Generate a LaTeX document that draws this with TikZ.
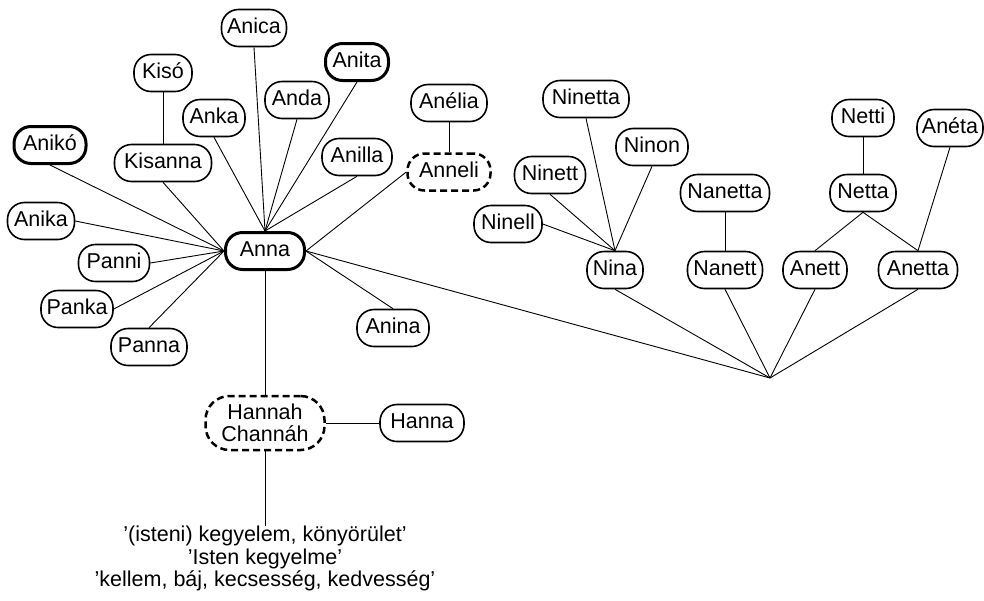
\documentclass[tikz,border=0pt]{standalone}
\usepackage{fontspec}
\setmainfont{Liberation Sans}
\tikzset{
  nm/.style={draw, line width=1.6pt, rounded corners=17pt, minimum height=37pt,
    inner xsep=3pt, inner ysep=0pt, font=\fontsize{21.5}{22.5}\selectfont,
    text height=15pt, text depth=4pt},
  thk/.style={nm, line width=3pt},
  dsh/.style={nm, line width=2.5pt, dash pattern=on 7pt off 4pt},
  ed/.style={line width=0.9pt},
}
\begin{document}
\begin{tikzpicture}[x=1pt,y=-1pt]
\useasboundingbox (0,0) rectangle (984,600);
% left cluster
\node[nm, minimum width=65pt] (anica) at (254,28) {Anica};
\node[nm, minimum width=58pt] (kiso) at (163,73) {Kisó};
\node[thk, minimum width=63pt] (anita) at (357,62) {Anita};
\node[nm, minimum width=64pt] (anda) at (297,100) {Anda};
\node[nm, minimum width=62pt] (anka) at (214,118) {Anka};
\node[thk, minimum width=72pt] (aniko) at (50,145) {Anikó};
\node[nm, minimum width=97pt] (kisanna) at (163,163) {Kisanna};
\node[nm, minimum width=70pt] (anilla) at (357,157) {Anilla};
\node[nm, minimum width=76pt] (anelia) at (449,103) {Anélia};
\node[dsh, minimum width=83pt] (anneli) at (449,172) {Anneli};
\node[nm, minimum width=67pt] (anika) at (41,221) {Anika};
\node[thk, minimum width=79pt] (anna) at (265,251) {Anna};
\node[nm, minimum width=71pt] (panni) at (114,263) {Panni};
\node[nm, minimum width=72pt] (panka) at (77,309) {Panka};
\node[nm, minimum width=76pt] (panna) at (149,347) {Panna};
\node[nm, minimum width=72pt] (anina) at (393,328) {Anina};
\node[draw, line width=2.5pt, dash pattern=on 7pt off 4pt, rounded corners=24pt,
  minimum width=119pt, minimum height=54pt, inner sep=0pt, align=center,
  font=\fontsize{21.5}{22.5}\selectfont] (hannah) at (265,423) {Hannah\\Channáh};
\node[nm, minimum width=84pt] (hanna) at (422,423) {Hanna};
\node[anchor=north, align=center, inner sep=0pt, font=\fontsize{21.5}{22.5}\selectfont]
  (gloss) at (265,526) {’(isteni) kegyelem, könyörület’\\’Isten kegyelme’\\’kellem, báj, kecsesség, kedvesség’};
% right cluster
\node[nm, minimum width=86pt] (ninetta) at (586,99) {Ninetta};
\node[nm, minimum width=72pt] (ninon) at (652,147) {Ninon};
\node[nm, minimum width=71pt] (ninett) at (550,175) {Ninett};
\node[nm, minimum width=68pt] (ninell) at (508,224) {Ninell};
\node[nm, minimum width=56pt] (nina) at (615,270) {Nina};
\node[nm, minimum width=89pt] (nanetta) at (725,193) {Nanetta};
\node[nm, minimum width=75pt] (nanett) at (725,270) {Nanett};
\node[nm, minimum width=64pt] (anett) at (815,270) {Anett};
\node[nm, minimum width=79pt] (anetta) at (918,270) {Anetta};
\node[nm, minimum width=66pt] (netta) at (863,193) {Netta};
\node[nm, minimum width=62pt] (netti) at (863,118) {Netti};
\node[nm, minimum width=66pt] (aneta) at (950,128) {Anéta};
\coordinate (junc) at (770,378);
% edges
\draw[ed] (anka.south) -- (anna.north);
\draw[ed] (anica.south) -- (anna.north);
\draw[ed] (anda.south) -- (anna.north);
\draw[ed] (anita.south) -- (anna.north);
\draw[ed] (anilla.south) -- (anna.north);
\draw[ed] (aniko.south) -- (anna.west);
\draw[ed] (kisanna.south) -- (anna.west);
\draw[ed] (anika.east) -- (anna.west);
\draw[ed] (panni.east) -- (anna.west);
\draw[ed] (panka.east) -- (anna.west);
\draw[ed] (panna.north) -- (anna.west);
\draw[ed] (anneli.west) -- (anna.east);
\draw[ed] (anina.north) -- (anna.east);
\draw[ed] (anna.east) -- (junc);
\draw[ed] (kiso.south) -- (kisanna.north);
\draw[ed] (anelia.south) -- (anneli.north);
\draw[ed] (anna.south) -- (hannah.north);
\draw[ed] (hannah.east) -- (hanna.west);
\draw[ed] (hannah.south) -- (gloss.north);
\draw[ed] (ninetta.south) -- (nina.north);
\draw[ed] (ninon.south) -- (nina.north);
\draw[ed] (ninett.south) -- (nina.north);
\draw[ed] (ninell.east) -- (nina.north);
\draw[ed] (nanetta.south) -- (nanett.north);
\draw[ed] (netti.south) -- (netta.north);
\draw[ed] (netta.south) -- (anett.north);
\draw[ed] (netta.south) -- (anetta.north);
\draw[ed] (aneta.south) -- (anetta.north);
\draw[ed] (nina.south) -- (junc);
\draw[ed] (nanett.south) -- (junc);
\draw[ed] (anett.south) -- (junc);
\draw[ed] (anetta.south) -- (junc);
\end{tikzpicture}
\end{document}
